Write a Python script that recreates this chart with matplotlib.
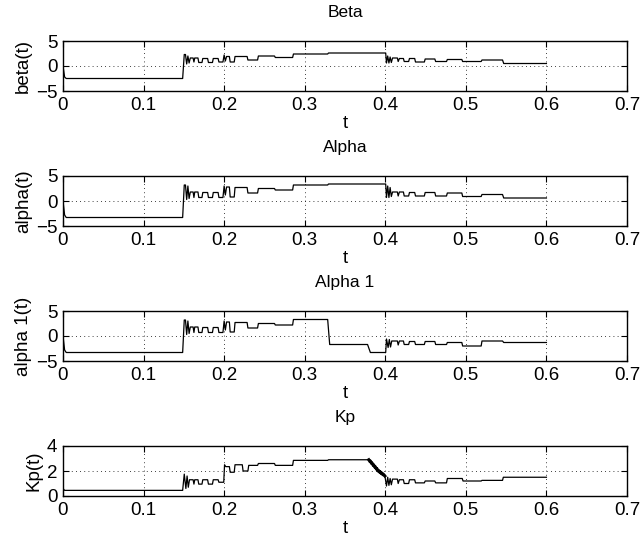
import matplotlib.pyplot as plt
from matplotlib import font_manager

names = {f.name for f in font_manager.fontManager.ttflist}
narrow = 'Liberation Sans Narrow' if 'Liberation Sans Narrow' in names else 'Liberation Sans'
plt.rcParams['font.family'] = [narrow, 'DejaVu Sans']

# (t, value) vertices
beta_pts = [
    (0.000, 0.0), (0.002, -2.2), (0.004, -2.5), (0.1485, -2.5),
    (0.1505, 2.3), (0.152, 2.3), (0.1535, 0.4), (0.155, 2.0), (0.1565, 0.6),
    (0.158, 1.6), (0.1615, 1.6), (0.1625, 0.8), (0.1635, 1.6), (0.1675, 1.6),
    (0.1685, 0.7), (0.1725, 0.7), (0.1735, 1.5), (0.1795, 1.5), (0.1805, 0.7),
    (0.1855, 0.7), (0.1865, 1.5), (0.1925, 1.5), (0.1935, 0.8), (0.1985, 0.8),
    (0.2000, 2.2), (0.2015, 1.0), (0.2030, 1.9), (0.2065, 1.9), (0.2075, 0.8),
    (0.2125, 0.8), (0.2135, 1.9), (0.2285, 1.9), (0.2295, 1.2), (0.2415, 1.2),
    (0.2425, 2.0), (0.2625, 2.0), (0.2635, 1.7), (0.2850, 1.7), (0.2860, 2.4),
    (0.3285, 2.4), (0.3295, 2.6), (0.4005, 2.6),
    (0.4015, 0.6), (0.4030, 2.0), (0.4045, 0.6), (0.4060, 1.8), (0.4075, 0.7),
    (0.4090, 1.6), (0.4150, 1.6), (0.4160, 0.9), (0.4175, 1.5), (0.4225, 1.5),
    (0.4235, 0.9), (0.4290, 0.9), (0.4300, 1.5), (0.4365, 1.5), (0.4375, 0.8),
    (0.4485, 0.8), (0.4495, 1.4), (0.4615, 1.4), (0.4625, 0.9), (0.4760, 0.9),
    (0.4770, 1.3), (0.4950, 1.3), (0.4960, 0.9), (0.5190, 0.9), (0.5200, 1.2),
    (0.5455, 1.2), (0.5470, 0.5), (0.6000, 0.5),
]

alpha_pts = [
    (0.000, 0.0), (0.002, -2.8), (0.004, -3.3), (0.1485, -3.3),
    (0.1505, 3.2), (0.152, 3.2), (0.1535, 0.3), (0.155, 3.0), (0.1565, 0.5),
    (0.158, 1.8), (0.1615, 1.8), (0.1625, 0.7), (0.1635, 1.8), (0.1675, 1.8),
    (0.1685, 0.7), (0.1725, 0.7), (0.1735, 1.7), (0.1795, 1.7), (0.1805, 0.7),
    (0.1855, 0.7), (0.1865, 1.7), (0.1925, 1.7), (0.1935, 0.7), (0.1985, 0.7),
    (0.2000, 3.0), (0.2015, 1.2), (0.2030, 2.8), (0.2065, 2.8), (0.2075, 0.8),
    (0.2125, 0.8), (0.2135, 2.7), (0.2285, 2.7), (0.2295, 1.6), (0.2415, 1.6),
    (0.2425, 2.5), (0.2625, 2.5), (0.2635, 2.2), (0.2850, 2.2), (0.2860, 3.2),
    (0.3285, 3.2), (0.3295, 3.4), (0.4005, 3.4),
    (0.4015, 0.7), (0.4030, 3.0), (0.4045, 0.7), (0.4060, 2.7), (0.4075, 0.9),
    (0.4090, 1.8), (0.4150, 1.8), (0.4160, 1.0), (0.4175, 1.8), (0.4225, 1.8),
    (0.4235, 1.0), (0.4290, 1.0), (0.4300, 1.7), (0.4365, 1.7), (0.4375, 1.0),
    (0.4485, 1.0), (0.4495, 1.7), (0.4615, 1.7), (0.4625, 1.0), (0.4760, 1.0),
    (0.4770, 1.6), (0.4950, 1.6), (0.4960, 0.9), (0.5190, 0.9), (0.5200, 1.3),
    (0.5455, 1.3), (0.5470, 0.6), (0.6000, 0.6),
]

alpha1_pts = [
    (0.000, 0.0), (0.002, -2.8), (0.004, -3.3), (0.1485, -3.3),
    (0.1505, 3.2), (0.152, 3.2), (0.1535, 0.3), (0.155, 3.0), (0.1565, 0.5),
    (0.158, 1.8), (0.1615, 1.8), (0.1625, 0.7), (0.1635, 1.8), (0.1675, 1.8),
    (0.1685, 0.7), (0.1725, 0.7), (0.1735, 1.7), (0.1795, 1.7), (0.1805, 0.7),
    (0.1855, 0.7), (0.1865, 1.7), (0.1925, 1.7), (0.1935, 0.7), (0.1985, 0.7),
    (0.2000, 3.0), (0.2015, 1.2), (0.2030, 2.8), (0.2065, 2.8), (0.2075, 0.8),
    (0.2125, 0.8), (0.2135, 2.7), (0.2285, 2.7), (0.2295, 1.6), (0.2415, 1.6),
    (0.2425, 2.5), (0.2625, 2.5), (0.2635, 2.2), (0.2850, 2.2), (0.2860, 3.3),
    (0.3285, 3.3), (0.3310, -1.7), (0.3780, -1.7), (0.3815, -3.3), (0.4005, -3.3),
    (0.4015, -0.6), (0.4035, -2.3), (0.4050, -0.7), (0.4065, -2.2), (0.4080, -1.0),
    (0.4150, -1.0), (0.4160, -1.8), (0.4175, -1.0), (0.4225, -1.0), (0.4235, -1.7),
    (0.4290, -1.7), (0.4300, -1.1), (0.4365, -1.1), (0.4375, -1.7), (0.4485, -1.7),
    (0.4495, -1.1), (0.4615, -1.1), (0.4625, -1.7), (0.4760, -1.7), (0.4770, -1.3),
    (0.4950, -1.3), (0.4960, -2.0), (0.5190, -2.0), (0.5200, -1.0), (0.5455, -1.0),
    (0.5470, -1.3), (0.6000, -1.3),
]

kp_pts = [
    (0.000, 0.6), (0.002, 0.45), (0.1485, 0.45),
    (0.1505, 1.75), (0.1525, 0.6), (0.1540, 1.6), (0.1555, 0.7),
    (0.1570, 1.3), (0.1615, 1.3), (0.1625, 0.95), (0.1635, 1.3), (0.1675, 1.3),
    (0.1685, 0.95), (0.1725, 0.95), (0.1735, 1.3), (0.1795, 1.3), (0.1805, 0.95),
    (0.1855, 0.95), (0.1865, 1.3), (0.1925, 1.3), (0.1935, 1.1), (0.1995, 1.1),
    (0.2005, 2.5), (0.2020, 2.35), (0.2065, 2.35), (0.2075, 1.9), (0.2125, 1.9),
    (0.2135, 2.5), (0.2225, 2.5), (0.2235, 2.0), (0.2295, 2.0), (0.2305, 2.45),
    (0.2415, 2.45), (0.2425, 2.6), (0.2625, 2.6), (0.2635, 2.45), (0.2850, 2.45),
    (0.2860, 2.85), (0.3285, 2.85), (0.3295, 2.9), (0.3795, 2.9),
]

kp_drop_pts = [
    (0.3795, 2.9), (0.3810, 2.75), (0.3815, 2.8), (0.3830, 2.6), (0.3835, 2.65),
    (0.3850, 2.45), (0.3855, 2.5), (0.3870, 2.3), (0.3875, 2.35), (0.3890, 2.15),
    (0.3895, 2.2), (0.3910, 2.0), (0.3915, 2.05), (0.3930, 1.9), (0.3935, 1.95),
    (0.3950, 1.8), (0.3955, 1.85), (0.3970, 1.7), (0.3975, 1.75), (0.3995, 1.6),
]

kp_tail_pts = [
    (0.3995, 1.6), (0.4015, 0.8), (0.4030, 1.5), (0.4045, 0.85), (0.4060, 1.4),
    (0.4075, 0.9), (0.4090, 1.35), (0.4150, 1.35), (0.4160, 1.0), (0.4175, 1.3),
    (0.4225, 1.3), (0.4235, 1.0), (0.4290, 1.0), (0.4300, 1.3), (0.4365, 1.3),
    (0.4375, 1.05), (0.4485, 1.05), (0.4495, 1.2), (0.4615, 1.2), (0.4625, 1.05),
    (0.4760, 1.05), (0.4770, 1.4), (0.4955, 1.4), (0.4965, 1.2), (0.5190, 1.2),
    (0.5200, 1.25), (0.5455, 1.25), (0.5465, 1.5), (0.6000, 1.5),
]

titles = ['Beta', 'Alpha', 'Alpha 1', 'Kp']
ylabels = ['beta(t)', 'alpha(t)', 'alpha 1(t)', 'Kp(t)']
yticks = [[-5, 0, 5], [-5, 0, 5], [-5, 0, 5], [0, 2, 4]]
xticks = [0, 0.1, 0.2, 0.3, 0.4, 0.5, 0.6, 0.7]

W, H = 642, 541
fig = plt.figure(figsize=(W / 100, H / 100), dpi=100)

tops = [41, 176, 311, 446]
axes = []
for i, top in enumerate(tops):
    ax = fig.add_axes([63 / W, 1 - (top + 50) / H, 564 / W, 50 / H])
    axes.append(ax)


def draw(ax, pts, lw=0.9):
    t = [p[0] for p in pts]
    y = [p[1] for p in pts]
    ax.plot(t, y, color='k', linewidth=lw)


draw(axes[0], beta_pts)
draw(axes[1], alpha_pts)
draw(axes[2], alpha1_pts)
draw(axes[3], kp_pts)
draw(axes[3], kp_drop_pts, lw=2.2)
draw(axes[3], kp_tail_pts)

for i, ax in enumerate(axes):
    ax.set_xlim(0, 0.7)
    ax.set_ylim(yticks[i][0], yticks[i][-1])
    ax.set_xticks(xticks)
    ax.set_xticklabels(['0', '0.1', '0.2', '0.3', '0.4', '0.5', '0.6', '0.7'])
    ax.set_yticks(yticks[i])
    ax.set_yticklabels([str(v).replace('-', '\u2212') for v in yticks[i]])
    ax.tick_params(direction='in', top=True, right=True, length=4,
                   labelsize=13.5, pad=4)
    ax.grid(True, linestyle=(0, (1, 4)), color='k', linewidth=0.6)
    for s in ax.spines.values():
        s.set_linewidth(1.0)
    ax.set_title(titles[i], fontsize=12.5, pad=17)
    ax.set_xlabel('t', fontsize=13.5, labelpad=1)
    ax.set_ylabel(ylabels[i], fontsize=13.5, labelpad=3)

fig.savefig('out.png', dpi=100)
